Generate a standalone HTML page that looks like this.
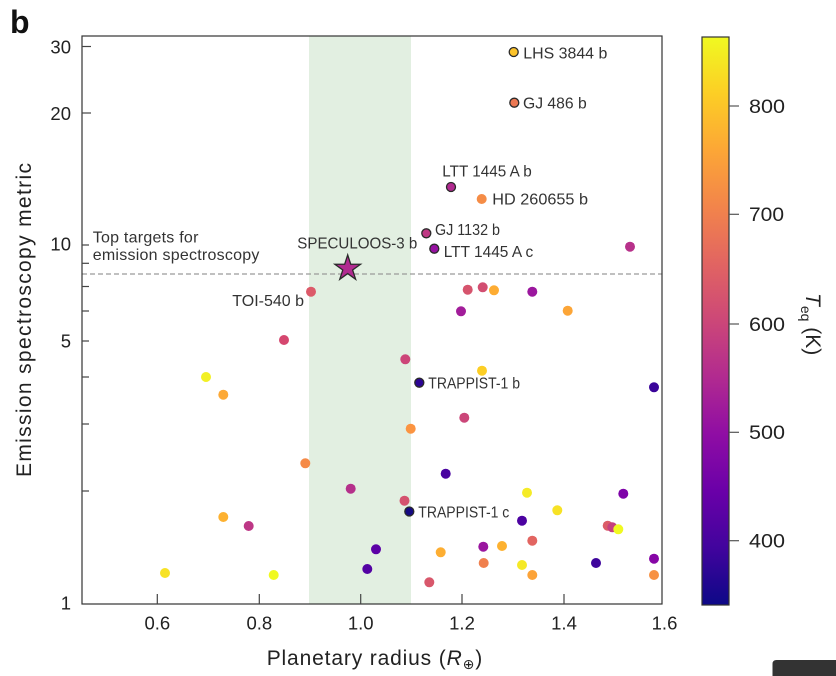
<!DOCTYPE html>
<html>
<head>
<meta charset="utf-8">
<style>
  html, body { margin: 0; padding: 0; background: #ffffff; }
  svg { display: block; }
  text { font-family: "Liberation Sans", "DejaVu Sans", sans-serif; fill: #222; }
</style>
</head>
<body>
<svg width="836" height="676" viewBox="0 0 836 676" xmlns="http://www.w3.org/2000/svg">
  <defs>
    <linearGradient id="plasma" x1="0" y1="0" x2="0" y2="1">
      <stop offset="0%" stop-color="#f0f921"/>
      <stop offset="10%" stop-color="#fcce25"/>
      <stop offset="20%" stop-color="#fca636"/>
      <stop offset="30%" stop-color="#f2844b"/>
      <stop offset="40%" stop-color="#e16462"/>
      <stop offset="50%" stop-color="#cc4778"/>
      <stop offset="60%" stop-color="#b12a90"/>
      <stop offset="70%" stop-color="#8f0da4"/>
      <stop offset="80%" stop-color="#6a00a8"/>
      <stop offset="90%" stop-color="#41049d"/>
      <stop offset="100%" stop-color="#0d0887"/>
    </linearGradient>
  </defs>

  <!-- panel letter -->
  <text x="10" y="33" style="font-weight:bold; font-size:32px; fill:#111;">b</text>

  <!-- green band -->
  <rect x="309" y="36" width="102" height="568" fill="#e2efe1"/>

  <!-- dashed threshold -->
  <line x1="82" y1="274" x2="662" y2="274" stroke="#9a9a9a" stroke-width="1.3" stroke-dasharray="5,3"/>

  <!-- axes frame -->
  <rect x="82" y="36" width="580" height="568" fill="none" stroke="#333" stroke-width="1.2"/>

  <!-- y ticks -->
  <g stroke="#444" stroke-width="1.2">
    <line x1="82" y1="46.5" x2="91" y2="46.5"/>
    <line x1="82" y1="113" x2="91" y2="113"/>
    <line x1="82" y1="245" x2="89" y2="245"/>
    <line x1="82" y1="263.3" x2="89" y2="263.3"/>
    <line x1="82" y1="286.5" x2="89" y2="286.5"/>
    <line x1="82" y1="311" x2="89" y2="311"/>
    <line x1="82" y1="341" x2="89" y2="341"/>
    <line x1="82" y1="377" x2="89" y2="377"/>
    <line x1="82" y1="424" x2="89" y2="424"/>
    <line x1="82" y1="491" x2="89" y2="491"/>
  </g>
  <!-- x ticks -->
  <g stroke="#444" stroke-width="1.2">
    <line x1="157.3" y1="604" x2="157.3" y2="594"/>
    <line x1="259.3" y1="604" x2="259.3" y2="594"/>
    <line x1="360.7" y1="604" x2="360.7" y2="594"/>
    <line x1="462" y1="604" x2="462" y2="594"/>
    <line x1="564" y1="604" x2="564" y2="594"/>
  </g>

  <!-- y tick labels -->
  <g style="font-size:18.5px;" text-anchor="end">
    <text x="71" y="53.3">30</text>
    <text x="71" y="120">20</text>
    <text x="71" y="250.7">10</text>
    <text x="71" y="347.7">5</text>
    <text x="71" y="609.3">1</text>
  </g>
  <!-- x tick labels -->
  <g style="font-size:18.5px;" text-anchor="middle">
    <text x="157.3" y="629.3">0.6</text>
    <text x="259.3" y="629.3">0.8</text>
    <text x="360.7" y="629.3">1.0</text>
    <text x="462" y="629.3">1.2</text>
    <text x="564" y="629.3">1.4</text>
    <text x="664.5" y="629.3">1.6</text>
  </g>

  <!-- axis labels -->
  <text transform="translate(31,477) rotate(-90)" style="font-size:21px;" textLength="314" lengthAdjust="spacing">Emission spectroscopy metric</text>
  <text x="266.7" y="665" style="font-size:21px; letter-spacing:0.85px;">Planetary radius (<tspan style="font-style:italic;">R</tspan><tspan style="font-size:14px;" dy="4">⊕</tspan><tspan dy="-4">)</tspan></text>

  <!-- annotation text -->
  <g style="font-size:16px; fill:#333;">
    <text x="92.7" y="242.5" textLength="105.7" lengthAdjust="spacing" style="fill:#333">Top targets for</text>
    <text x="92.7" y="260" textLength="166.7" lengthAdjust="spacing" style="fill:#333">emission spectroscopy</text>
    <text x="297.3" y="248.3" textLength="120" lengthAdjust="spacingAndGlyphs" style="fill:#333">SPECULOOS-3 b</text>
    <text x="232.3" y="306" textLength="71.7" lengthAdjust="spacingAndGlyphs" style="fill:#333">TOI-540 b</text>
    <text x="523.3" y="58.3" textLength="84" lengthAdjust="spacingAndGlyphs" style="fill:#333">LHS 3844 b</text>
    <text x="523" y="108.7" textLength="63.7" lengthAdjust="spacingAndGlyphs" style="fill:#333">GJ 486 b</text>
    <text x="442.3" y="176.5" textLength="89.4" lengthAdjust="spacingAndGlyphs" style="fill:#333">LTT 1445 A b</text>
    <text x="492.3" y="204.5" textLength="95.7" lengthAdjust="spacingAndGlyphs" style="fill:#333">HD 260655 b</text>
    <text x="435" y="235" textLength="65" lengthAdjust="spacingAndGlyphs" style="fill:#333">GJ 1132 b</text>
    <text x="443.7" y="257" textLength="89.6" lengthAdjust="spacingAndGlyphs" style="fill:#333">LTT 1445 A c</text>
    <text x="428.3" y="388.3" textLength="91.7" lengthAdjust="spacingAndGlyphs" style="fill:#333">TRAPPIST-1 b</text>
    <text x="418.3" y="517.3" textLength="91" lengthAdjust="spacingAndGlyphs" style="fill:#333">TRAPPIST-1 c</text>
  </g>

  <!-- scatter points (unlabelled) -->
  <g>
    <circle cx="284" cy="340" r="5" fill="#d5476f"/>
    <circle cx="206" cy="377" r="5" fill="#f2f025"/>
    <circle cx="223.3" cy="394.7" r="5" fill="#fca937"/>
    <circle cx="405.3" cy="359.3" r="5" fill="#cc4578"/>
    <circle cx="410.7" cy="428.7" r="5" fill="#fb9441"/>
    <circle cx="305.3" cy="463.3" r="5" fill="#f58a47"/>
    <circle cx="350.7" cy="488.7" r="5" fill="#b5308b"/>
    <circle cx="404.5" cy="500.7" r="5" fill="#d4526e"/>
    <circle cx="223.3" cy="517" r="5" fill="#fdb130"/>
    <circle cx="248.7" cy="526" r="5" fill="#bd3786"/>
    <circle cx="376" cy="549.3" r="5" fill="#5c01a6"/>
    <circle cx="367.3" cy="569" r="5" fill="#5302a3"/>
    <circle cx="165" cy="573" r="5" fill="#f7e225"/>
    <circle cx="273.7" cy="575" r="5" fill="#f0f921"/>

    <circle cx="461" cy="311.3" r="5" fill="#a21d9a"/>
    <circle cx="567.7" cy="310.7" r="5" fill="#fca537"/>
    <circle cx="482" cy="370.7" r="5" fill="#fcce25"/>
    <circle cx="654" cy="387.3" r="5" fill="#3a049a"/>
    <circle cx="464.3" cy="417.7" r="5" fill="#cb4679"/>
    <circle cx="445.7" cy="473.7" r="5" fill="#4903a0"/>
    <circle cx="527" cy="492.7" r="5" fill="#f5eb27"/>
    <circle cx="623.3" cy="493.7" r="5" fill="#7e03a8"/>
    <circle cx="557.3" cy="510.3" r="5" fill="#f7e225"/>
    <circle cx="522" cy="520.7" r="5" fill="#4c02a1"/>
    <circle cx="607.7" cy="525.7" r="5" fill="#db5c68"/>
    <circle cx="612.3" cy="527.3" r="5" fill="#c5407e"/>
    <circle cx="618.3" cy="529.3" r="5" fill="#f0f921"/>
    <circle cx="532.3" cy="540.7" r="5" fill="#e26561"/>
    <circle cx="483.3" cy="546.7" r="5" fill="#9a169f"/>
    <circle cx="502" cy="546" r="5" fill="#fdb130"/>
    <circle cx="440.7" cy="552.3" r="5" fill="#fdae32"/>
    <circle cx="654" cy="558.7" r="5" fill="#8606a6"/>
    <circle cx="483.7" cy="563" r="5" fill="#f0804e"/>
    <circle cx="596" cy="563" r="5" fill="#3e049c"/>
    <circle cx="522" cy="565" r="5" fill="#f5e926"/>
    <circle cx="532.3" cy="575" r="5" fill="#fca338"/>
    <circle cx="654" cy="575" r="5" fill="#f79143"/>
    <circle cx="429.3" cy="582.3" r="5" fill="#d8576b"/>

    <circle cx="630" cy="246.7" r="5" fill="#b7318a"/>
    <circle cx="467.7" cy="289.7" r="5" fill="#d6546d"/>
    <circle cx="482.7" cy="287.3" r="5" fill="#d24e71"/>
    <circle cx="494" cy="290.3" r="5" fill="#fdac33"/>
    <circle cx="532.3" cy="291.7" r="5" fill="#9b179e"/>
    <circle cx="481.7" cy="199" r="5" fill="#f58c46"/>
    <circle cx="311" cy="291.7" r="5" fill="#dc5a69"/>
  </g>

  <!-- outlined (labelled) points -->
  <g stroke="#2a2a2a" stroke-width="1.3">
    <circle cx="513.7" cy="52" r="4.5" fill="#fcc32a"/>
    <circle cx="514.3" cy="102.7" r="4.5" fill="#ec7853"/>
    <circle cx="451" cy="187" r="4.5" fill="#b12a90"/>
    <circle cx="426.3" cy="233.3" r="4.5" fill="#bf3984"/>
    <circle cx="434.3" cy="248.7" r="4.5" fill="#9612a1"/>
    <circle cx="419.3" cy="382.7" r="4.5" fill="#2c0594"/>
    <circle cx="409.3" cy="511.5" r="4.5" fill="#150a82"/>
  </g>

  <!-- SPECULOOS-3 b star -->
  <polygon points="347.7,254.9 350.73,264.23 360.54,264.23 352.61,270.0 355.64,279.32 347.7,273.56 339.76,279.32 342.79,270.0 334.86,264.23 344.67,264.23"
           fill="#b12a90" stroke="#2a2a2a" stroke-width="1.3" stroke-linejoin="miter"/>

  <!-- colorbar -->
  <rect x="702" y="37" width="27" height="568" fill="url(#plasma)" stroke="#333" stroke-width="1.2"/>
  <g stroke="#555" stroke-width="1.2">
    <line x1="729" y1="106" x2="739" y2="106"/>
    <line x1="729" y1="214.3" x2="739" y2="214.3"/>
    <line x1="729" y1="324" x2="739" y2="324"/>
    <line x1="729" y1="432.3" x2="739" y2="432.3"/>
    <line x1="729" y1="540.7" x2="739" y2="540.7"/>
  </g>
  <g style="font-size:19px;">
    <text x="749" y="112.8" textLength="36" lengthAdjust="spacingAndGlyphs">800</text>
    <text x="749" y="221.1" textLength="35" lengthAdjust="spacingAndGlyphs">700</text>
    <text x="749" y="330.8" textLength="36" lengthAdjust="spacingAndGlyphs">600</text>
    <text x="749" y="439.1" textLength="36" lengthAdjust="spacingAndGlyphs">500</text>
    <text x="749" y="547.5" textLength="36" lengthAdjust="spacingAndGlyphs">400</text>
  </g>
  <text transform="translate(806,293) rotate(90)" style="font-size:21px;"><tspan style="font-style:italic;">T</tspan><tspan style="font-size:14px;" dy="5">eq</tspan><tspan dy="-5"> (K)</tspan></text>

  <!-- bottom-right overlay -->
  <path d="M772.5,676 L772.5,664 Q772.5,660 776.5,660 L836,660 L836,676 Z" fill="#333"/>
</svg>
</body>
</html>
